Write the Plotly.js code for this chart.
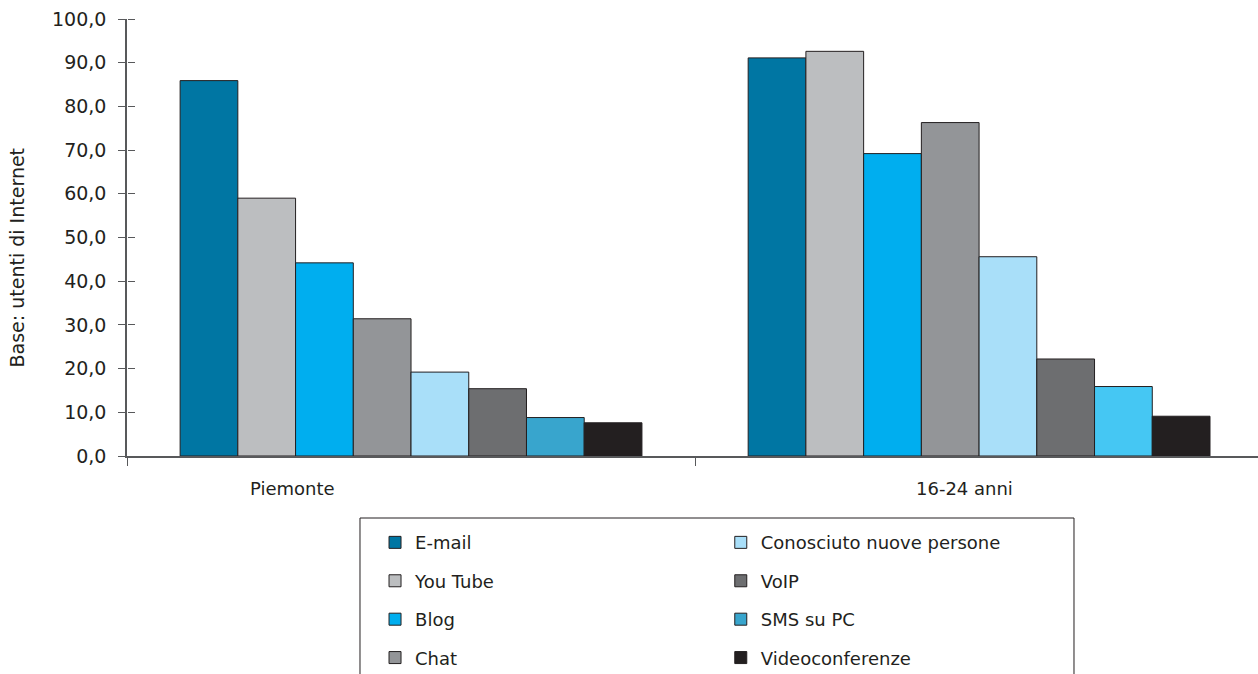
<!DOCTYPE html>
<html>
<head>
<meta charset="utf-8">
<script src="https://cdn.plot.ly/plotly-3.0.1.min.js"></script>
<style>html,body{margin:0;padding:0;background:#fff;}#chart{width:1258px;height:674px;}</style>
</head>
<body>
<div id="chart"></div>
<script>
const categories = ["Piemonte", "16-24 anni"];
const seriesNames = ["E-mail", "You Tube", "Blog", "Chat", "Conosciuto nuove persone", "VoIP", "SMS su PC", "Videoconferenze"];
const emailValues = [85.9, 91.1];
const youtubeValues = [59.0, 92.6];
const blogValues = [44.2, 69.2];
const chatValues = [31.4, 76.3];
const conosciutoValues = [19.2, 45.6];
const voipValues = [15.4, 22.2];
const smsValues = [8.8, 15.9];
const videoValues = [7.6, 9.1];
const yTickValues = [0, 10, 20, 30, 40, 50, 60, 70, 80, 90, 100];
const yAxisTitle = "Base: utenti di Internet";

const allValues = [emailValues, youtubeValues, blogValues, chatValues, conosciutoValues, voipValues, smsValues, videoValues];
const colors = ["#0076A3", "#BCBEC0", "#00AEEF", "#939598", "#A9DFF9", "#6D6E70", ["#38A5CD", "#45C7F3"], "#231F20"];

const FONT = "DejaVu Sans, sans-serif";
const TXT = "#231F20";
const AX = "#58595B";

const traces = allValues.map((vals, i) => ({
  type: "bar",
  name: seriesNames[i],
  x: categories,
  y: vals,
  marker: {color: colors[i], line: {color: "#231F20", width: 1}},
  legend: i < 4 ? "legend" : "legend2",
  legendgroup: seriesNames[i],
  hoverinfo: "x+y+name"
}));
// transparent helper trace so the overlaid axis (inner tick marks) is drawn
traces.push({type: "scatter", mode: "markers", x: categories, y: emailValues, yaxis: "y2",
  marker: {opacity: 0}, showlegend: false, hoverinfo: "skip"});

const legendCommon = {
  orientation: "v",
  traceorder: "grouped",
  tracegroupgap: 12,
  font: {family: FONT, size: 18, color: TXT},
  bgcolor: "rgba(0,0,0,0)",
  borderwidth: 0,
  xanchor: "left",
  yanchor: "top",
  itemclick: false
};

const layout = {
  width: 1258,
  height: 674,
  margin: {l: 127, r: 0, t: 19, b: 218, autoexpand: false},
  paper_bgcolor: "#ffffff",
  plot_bgcolor: "#ffffff",
  font: {family: FONT, size: 18, color: TXT},
  separators: ",.",
  barmode: "group",
  bargap: 0.187,
  bargroupgap: 0,
  showlegend: true,
  xaxis: {
    type: "category",
    range: [-0.5, 1.491],
    tickson: "boundaries",
    ticks: "outside",
    ticklen: 8,
    tickcolor: AX,
    showticklabels: false,
    showline: true,
    linecolor: AX,
    linewidth: 1.5,
    showgrid: false,
    zeroline: false,
    fixedrange: true
  },
  yaxis: {
    range: [0, 100],
    tickvals: yTickValues,
    tickformat: ".1f",
    ticks: "outside",
    ticklen: 7,
    tickcolor: AX,
    ticklabelstandoff: 8,
    tickfont: {family: FONT, size: 19, color: TXT},
    showline: true,
    linecolor: AX,
    linewidth: 1.5,
    showgrid: false,
    zeroline: false,
    fixedrange: true
  },
  yaxis2: {
    overlaying: "y",
    side: "right",
    anchor: "free",
    position: 0,
    range: [0, 100],
    tickvals: yTickValues,
    ticks: "outside",
    ticklen: 7,
    tickcolor: AX,
    showticklabels: false,
    showline: false,
    showgrid: false,
    zeroline: false,
    fixedrange: true
  },
  legend: Object.assign({}, legendCommon, {x: 0.2193, y: -0.156}),
  legend2: Object.assign({}, legendCommon, {x: 0.525, y: -0.156}),
  shapes: [
    {type: "rect", xref: "paper", yref: "paper", x0: 0.206, x1: 0.8373, y0: -0.1419, y1: -0.6,
     line: {color: "#231F20", width: 1}, fillcolor: "rgba(0,0,0,0)", layer: "below"}
  ],
  annotations: [
    {text: categories[0], xref: "x", yref: "paper", x: -0.2095, y: -0.0755, showarrow: false,
     xanchor: "center", yanchor: "middle", font: {family: FONT, size: 18, color: TXT}},
    {text: categories[1], xref: "x", yref: "paper", x: 0.975, y: -0.0755, showarrow: false,
     xanchor: "center", yanchor: "middle", font: {family: FONT, size: 18, color: TXT}},
    {text: yAxisTitle, xref: "paper", yref: "paper", x: -0.097, y: 0.455, textangle: -90, showarrow: false,
     xanchor: "center", yanchor: "middle", font: {family: FONT, size: 19, color: TXT}}
  ]
};

Plotly.newPlot("chart", traces, layout, {displayModeBar: false, staticPlot: false, responsive: false});
</script>
</body>
</html>
